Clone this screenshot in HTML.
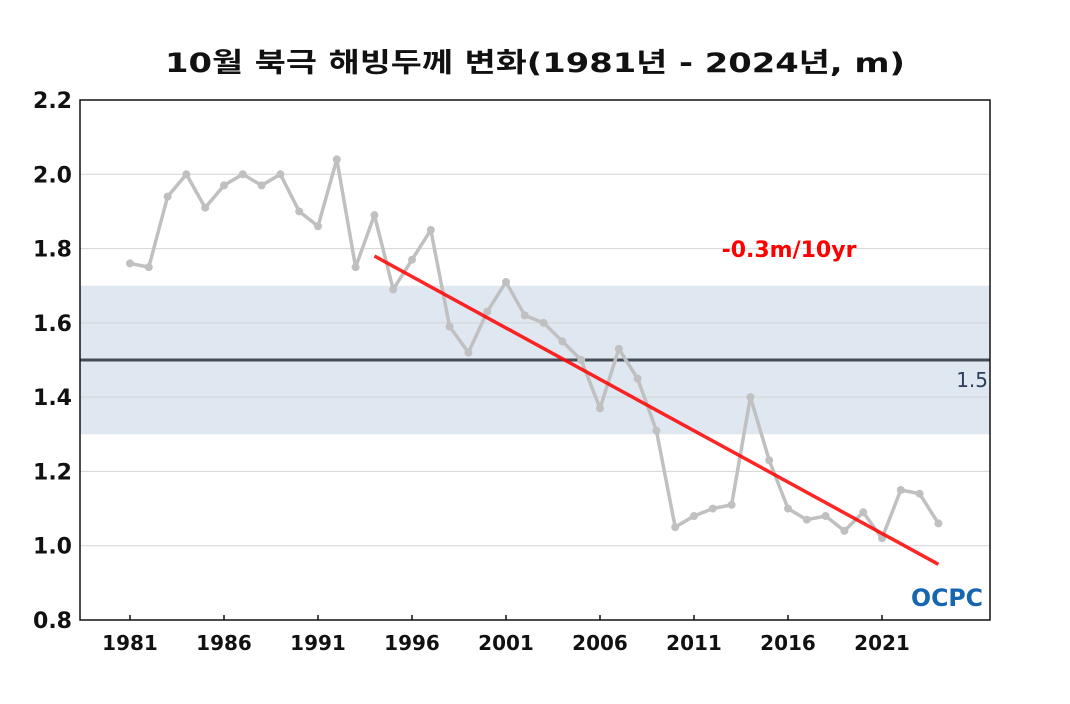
<!DOCTYPE html>
<html><head><meta charset="utf-8"><style>
body{margin:0;background:#fff;font-family:"DejaVu Sans","Noto Sans CJK KR",sans-serif}
svg text{font-family:"DejaVu Sans","Noto Sans CJK KR",sans-serif}
</style></head><body>
<svg id="c" width="1070" height="700" xmlns="http://www.w3.org/2000/svg"></svg>
<script>
const years=[1981,1982,1983,1984,1985,1986,1987,1988,1989,1990,1991,1992,1993,1994,1995,1996,1997,1998,1999,2000,2001,2002,2003,2004,2005,2006,2007,2008,2009,2010,2011,2012,2013,2014,2015,2016,2017,2018,2019,2020,2021,2022,2023,2024];
const thickness=[1.76,1.75,1.94,2.00,1.91,1.97,2.00,1.97,2.00,1.90,1.86,2.04,1.75,1.89,1.69,1.77,1.85,1.59,1.52,1.63,1.71,1.62,1.60,1.55,1.50,1.37,1.53,1.45,1.31,1.05,1.08,1.10,1.11,1.40,1.23,1.10,1.07,1.08,1.04,1.09,1.02,1.15,1.14,1.06];
const yTicks=[0.8,1.0,1.2,1.4,1.6,1.8,2.0,2.2];
const xTicks=[1981,1986,1991,1996,2001,2006,2011,2016,2021];
const trendYears=[1994,2024];
const trendValues=[1.78,0.95];
const refValue=1.5;
const bandRange=[1.3,1.7];

const NS="http://www.w3.org/2000/svg";
const svg=document.getElementById('c');
const L=80,R=990,T=100,B=620;
const xs=y=>130+(y-1981)*(882-130)/40;
const ys=v=>B-(v-0.8)*(B-T)/1.4;
function mk(tag,attrs,parent){const e=document.createElementNS(NS,tag);for(const k in attrs)e.setAttribute(k,attrs[k]);(parent||svg).appendChild(e);return e;}

let t=mk('text',{x:535,y:72,'text-anchor':'middle','font-size':27,'font-weight':'bold',fill:'#111',textLength:740,lengthAdjust:'spacingAndGlyphs'});
t.textContent='10월 북극 해빙두께 변화(1981년 - 2024년, m)';



let band=mk('rect',{x:L,y:ys(bandRange[1]),width:R-L,height:ys(bandRange[0])-ys(bandRange[1]),fill:'#dfe8f1'});



yTicks.forEach(v=>{
  if(v>0.8&&v<2.2){let g=mk('line',{x1:L,x2:R,y1:ys(v),y2:ys(v),stroke:'#d4d4d4','stroke-width':1});
  
  }
  let l=mk('text',{x:72,y:ys(v)+8,'text-anchor':'end','font-size':22,'font-weight':'bold',fill:'#111'});
  l.textContent=v.toFixed(1);
  
  
});
xTicks.forEach(y=>{
  let m=mk('line',{x1:xs(y),x2:xs(y),y1:B,y2:B-5,stroke:'#111','stroke-width':1.5});
  
  
  let l=mk('text',{x:xs(y),y:650,'text-anchor':'middle','font-size':20,'font-weight':'bold',fill:'#111'});
  l.textContent=y;
  
  
});

let ref=mk('line',{x1:L,x2:R,y1:ys(refValue),y2:ys(refValue),stroke:'#444d56','stroke-width':3});


let rl=mk('text',{x:988,y:ys(refValue)+27,'text-anchor':'end','font-size':20,fill:'#2c3e5a'});
rl.textContent='1.5';



let pl=mk('polyline',{points:years.map((y,i)=>xs(y)+','+ys(thickness[i])).join(' '),fill:'none',stroke:'#c0c0c0','stroke-width':3.5,'stroke-linejoin':'round'});


years.forEach((y,i)=>{
  let c=mk('circle',{cx:xs(y),cy:ys(thickness[i]),r:4,fill:'#c0c0c0'});
  
  
});

let tr=mk('line',{x1:xs(trendYears[0]),y1:ys(trendValues[0]),x2:xs(trendYears[1]),y2:ys(trendValues[1]),stroke:'#ff0000','stroke-width':3.5,'stroke-opacity':0.85});


let tl=mk('text',{x:789,y:257,'text-anchor':'middle','font-size':22,'font-weight':'bold',fill:'#ff0000'});
tl.textContent='-0.3m/10yr';



let fr=mk('rect',{x:L,y:T,width:R-L,height:B-T,fill:'none',stroke:'#111','stroke-width':1.5});



let lg=mk('text',{x:947,y:606,'text-anchor':'middle','font-size':24,'font-weight':'bold',fill:'#1565b0',textLength:72,lengthAdjust:'spacingAndGlyphs'});
lg.textContent='OCPC';


</script>
</body></html>
